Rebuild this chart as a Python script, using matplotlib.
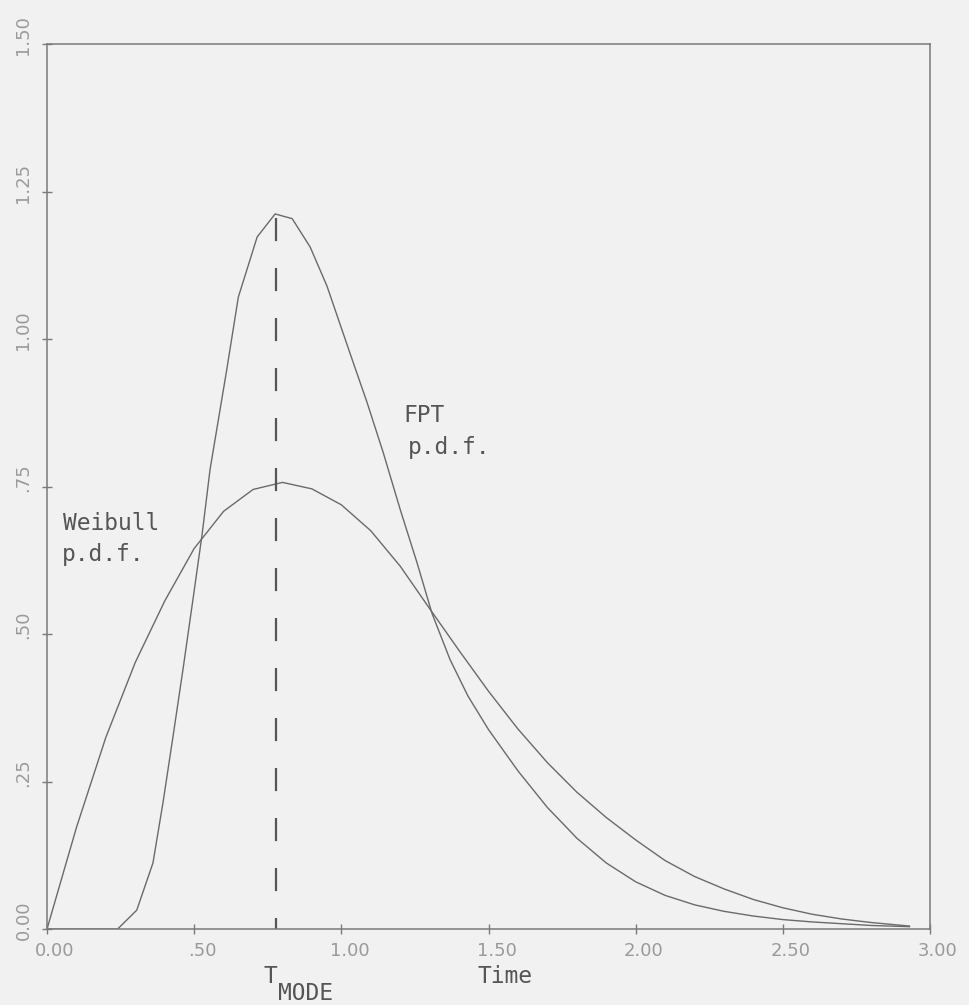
import numpy as np
import matplotlib
matplotlib.use("Agg")
import matplotlib.pyplot as plt
import matplotlib.transforms as mtransforms

# values
weibull_t = [0.0, 0.1, 0.2, 0.3, 0.4, 0.5, 0.6, 0.7, 0.8, 0.9, 1.0, 1.1, 1.2,
             1.3, 1.4, 1.5, 1.6, 1.7, 1.8, 1.9, 2.0, 2.1, 2.2, 2.3, 2.4, 2.5,
             2.6, 2.7, 2.8, 2.93]
weibull_y = [0.0, 0.172, 0.325, 0.452, 0.556, 0.645, 0.708, 0.745, 0.757, 0.746,
             0.719, 0.675, 0.615, 0.543, 0.472, 0.403, 0.339, 0.282, 0.232, 0.189,
             0.151, 0.116, 0.089, 0.068, 0.050, 0.036, 0.025, 0.017, 0.011, 0.005]

fpt_t = [0.0, 0.24, 0.305, 0.36, 0.394, 0.428, 0.462, 0.496, 0.527, 0.554, 0.611,
         0.65, 0.714, 0.775, 0.833, 0.894, 0.951, 1.03, 1.087, 1.142, 1.20, 1.257,
         1.308, 1.369, 1.43, 1.5, 1.6, 1.7, 1.8, 1.9, 2.0, 2.1, 2.2, 2.3, 2.4,
         2.5, 2.6, 2.7, 2.8, 2.93]
fpt_y = [0.0, 0.0, 0.032, 0.112, 0.214, 0.326, 0.44, 0.559, 0.669, 0.779, 0.949,
         1.071, 1.173, 1.212, 1.204, 1.156, 1.09, 0.975, 0.893, 0.808, 0.711, 0.621,
         0.535, 0.457, 0.395, 0.338, 0.268, 0.206, 0.154, 0.112, 0.080, 0.057,
         0.041, 0.030, 0.022, 0.016, 0.012, 0.009, 0.006, 0.004]

t_mode = 0.778
mode_top = 1.205

xticks = [0.0, 0.5, 1.0, 1.5, 2.0, 2.5, 3.0]
xticklabels = ['0.00', '.50', '1.00', '1.50', '2.00', '2.50', '3.00']
yticks = [0.0, 0.25, 0.5, 0.75, 1.0, 1.25, 1.5]
yticklabels = ['0.00', '.25', '.50', '.75', '1.00', '1.25', '1.50']

bg = '#f1f1f1'
fig = plt.figure(figsize=(9.69, 10.05), dpi=100, facecolor=bg)
ax = fig.add_axes([0.0485, 0.0756, 0.9113, 0.8806])
ax.set_facecolor(bg)

ax.plot(weibull_t, weibull_y, color='#6a6a6a', lw=1.0)
ax.plot(fpt_t, fpt_y, color='#6a6a6a', lw=1.0)
# drawn top-down so the dash pattern starts at the peak
mode_line, = ax.plot([t_mode, t_mode], [mode_top, 0], color='#555555', lw=1.6)
mode_line.set_dashes((10.4, 12.1))
mode_line.set_dash_capstyle('butt')

ax.set_xlim(0, 3.0)
ax.set_ylim(0, 1.5)
for s in ax.spines.values():
    s.set_color('#7a7a7a')
    s.set_linewidth(1.1)

ax.set_xticks(xticks)
ax.set_xticklabels(xticklabels)
ax.set_yticks(yticks)
ax.set_yticklabels(yticklabels, rotation=90, va='center')
ax.tick_params(direction='inout', length=7, width=1.0, color='#7a7a7a',
               labelcolor='#9a9a9a', labelsize=13)
ax.tick_params(axis='x', pad=6)
ax.tick_params(axis='y', pad=7)

dx = mtransforms.ScaledTranslation(8 / 100, 0, fig.dpi_scale_trans)
dy = mtransforms.ScaledTranslation(0, 9 / 100, fig.dpi_scale_trans)
for lab in ax.get_xticklabels():
    lab.set_transform(lab.get_transform() + dx)
for lab in ax.get_yticklabels():
    lab.set_transform(lab.get_transform() + dy)

mono = dict(family='DejaVu Sans Mono', color='#555555', fontsize=16.5, va='baseline')
ax.text(0.054, 0.676, 'Weibull', **mono)
ax.text(0.052, 0.623, 'p.d.f.', **mono)
ax.text(1.21, 0.859, 'FPT', **mono)
ax.text(1.225, 0.805, 'p.d.f.', **mono)
ax.text(1.461, -0.092, 'Time', clip_on=False, **mono)
ax.text(0.734, -0.092, 'T', clip_on=False, **mono)
ax.text(0.785, -0.1205, 'MODE', clip_on=False, **mono)

fig.savefig('out.png', dpi=100, facecolor=bg)
